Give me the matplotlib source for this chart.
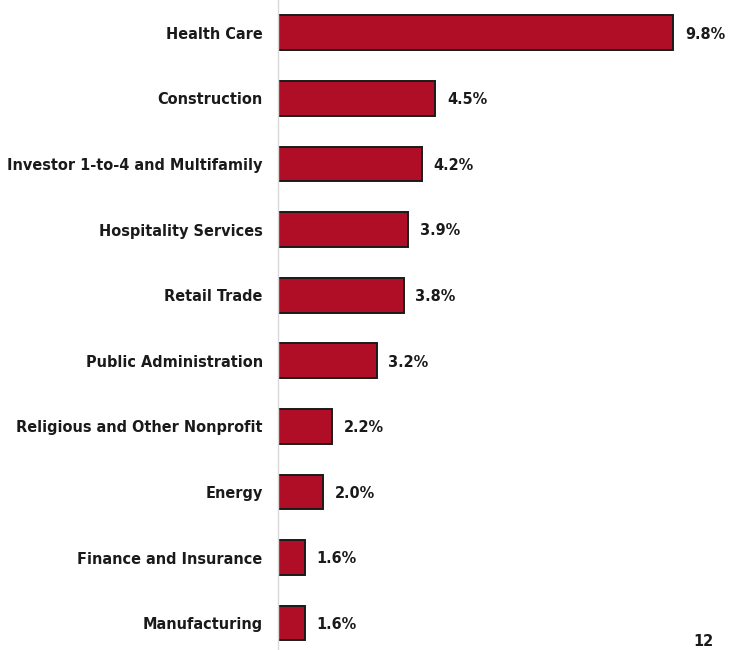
import numpy as np
import matplotlib

matplotlib.use("Agg")
import matplotlib.pyplot as plt

# Industry concentration (share of portfolio), top to bottom as shown
categories = [
    "Health Care",
    "Construction",
    "Investor 1-to-4 and Multifamily",
    "Hospitality Services",
    "Retail Trade",
    "Public Administration",
    "Religious and Other Nonprofit",
    "Energy",
    "Finance and Insurance",
    "Manufacturing",
]
values = [9.8, 4.5, 4.2, 3.9, 3.8, 3.2, 2.2, 2.0, 1.6, 1.6]
value_labels = ["9.8%", "4.5%", "4.2%", "3.9%", "3.8%", "3.2%", "2.2%", "2.0%", "1.6%", "1.6%"]
page_number = "12"

BASE = 1.0  # value axis starts here, not at zero
plt.rcParams["font.family"] = ["DejaVu Sans"]
TXT = dict(fontsize=11.6, fontweight="bold", fontstretch="condensed", color="#1a1a1a")

fig = plt.figure(figsize=(7.38, 6.5), dpi=100)
ax = fig.add_axes([278 / 738, 0, 450 / 738, 1])

y = np.arange(len(categories))
vals = np.array(values)
ax.barh(y, vals - BASE, left=BASE, height=0.53, color="#B00D27",
        edgecolor="#1a1a1a", linewidth=1.4)

for yi, v, lab in zip(y, vals, value_labels):
    ax.text(v + 0.26, yi + 0.02, lab, va="center", ha="left", **TXT)

ax.set_xlim(BASE, BASE + 450 / 44.9)
ax.set_ylim(9.41, -0.5)
ax.set_yticks(y)
ax.set_yticklabels(categories)
for t in ax.get_yticklabels():
    t.set(**TXT)
ax.tick_params(axis="y", length=0, pad=11)
ax.set_xticks([])
for s in ["top", "right", "bottom"]:
    ax.spines[s].set_visible(False)
ax.spines["left"].set_color("#D9D9D9")
ax.spines["left"].set_linewidth(1.0)

fig.text(703 / 738, 1 / 650, page_number, ha="center", va="bottom", **TXT)

fig.savefig("out.png", dpi=100)
